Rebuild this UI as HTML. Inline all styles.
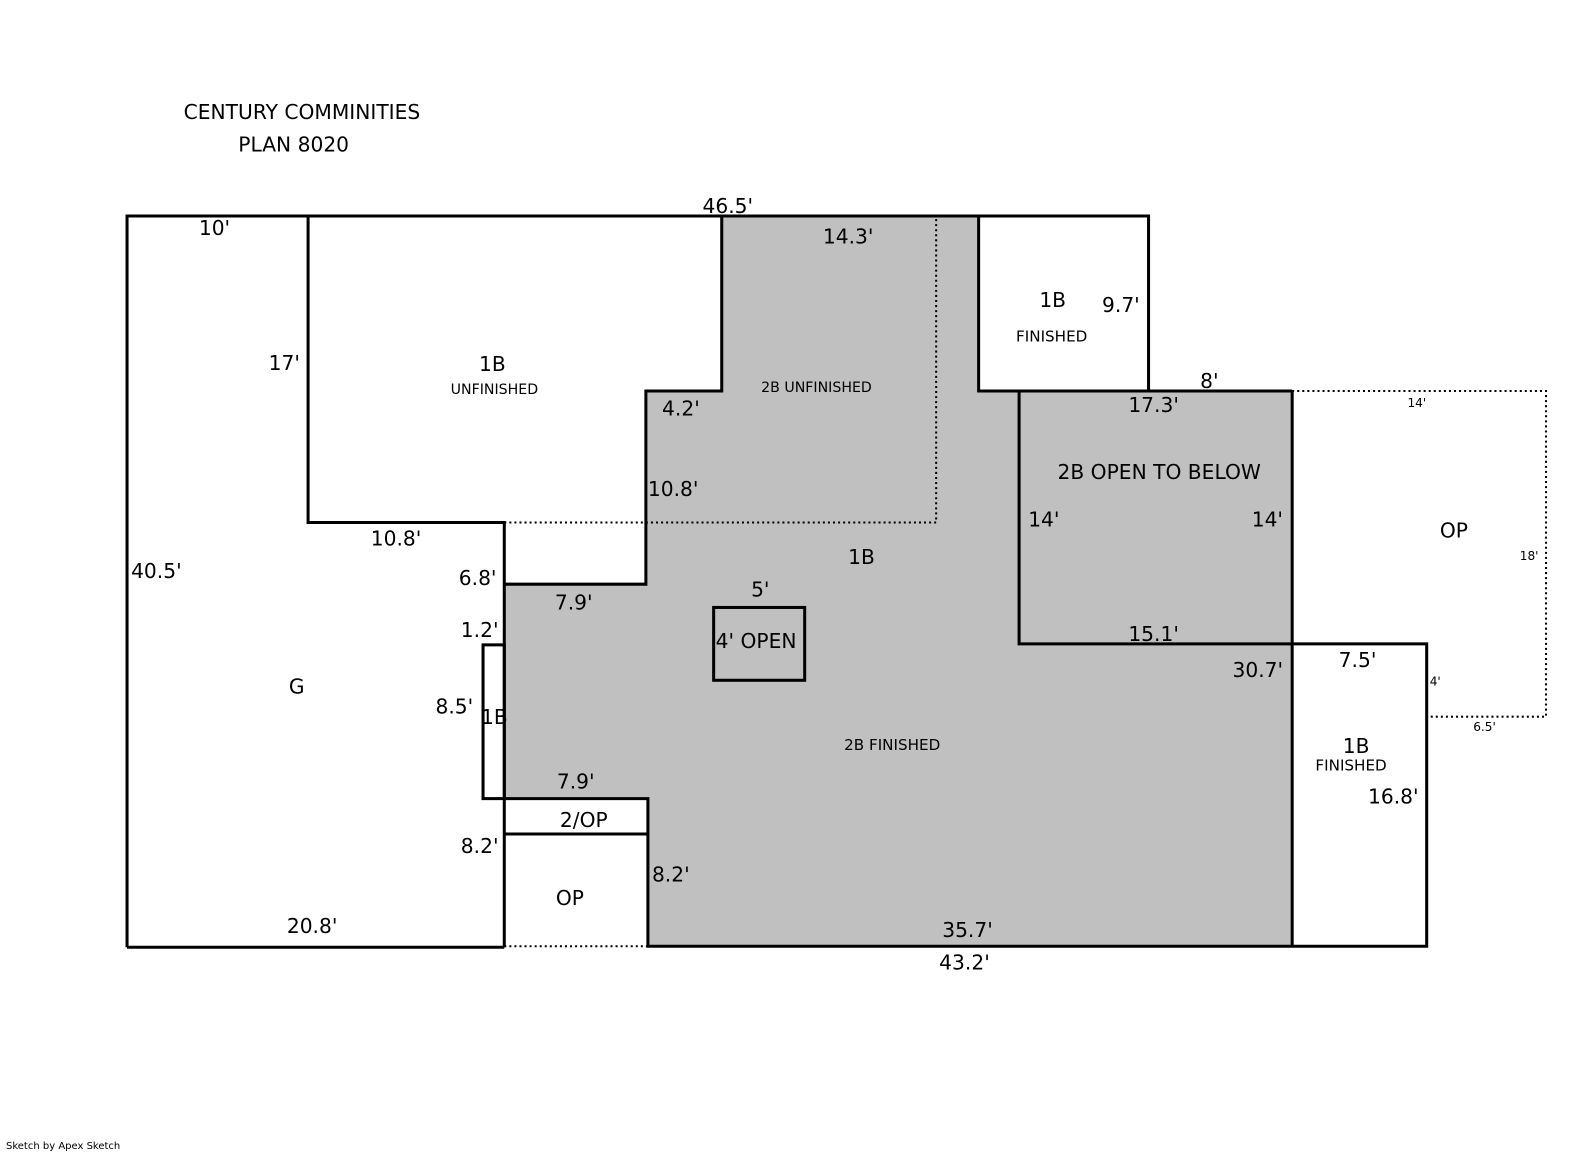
<!DOCTYPE html>
<html><head><meta charset="utf-8"><style>
html,body{margin:0;padding:0;background:#fff;}
svg{display:block;}
text{font-family:"DejaVu Sans","Liberation Sans",sans-serif;fill:#000;}
.d{font-size:20px;}
.s{font-size:15px;}
.t{font-size:14px;}
.x{font-size:12px;}
</style></head><body>
<svg width="1585" height="1163" viewBox="0 0 1585 1163" xmlns="http://www.w3.org/2000/svg">
<rect width="1585" height="1163" fill="#fff"/>
<g transform="matrix(1.0114 0 0 1.0114 -0.4 -0.4)">
<polygon points="714,215 968,215 968,387 1278,387 1278,936 641,936 641,790 499,790 499,578 639,578 639,387 714,387" fill="#c0c0c0"/>
<g stroke="#000" stroke-width="3" fill="none">
<polyline points="126,937 126,214 1136,214 1136,387"/>
<line x1="126" y1="937" x2="499" y2="937"/>
<polyline points="305,214 305,517 499,517 499,937"/>
<polyline points="714,214 714,387 639,387 639,578 499,578"/>
<polyline points="968,214 968,387 1278,387"/>
<polyline points="1008,387 1008,637 1278,637"/>
<line x1="1278" y1="387" x2="1278" y2="936"/>
<polyline points="1278,637 1411,637 1411,936 641,936 641,790 499,790"/>
<line x1="499" y1="825" x2="641" y2="825"/>
<rect x="478" y="638" width="21" height="152"/>
<rect x="706" y="601" width="90" height="72"/>
</g>
<g stroke="#000" stroke-width="2" fill="none" stroke-dasharray="2,3">
<polyline points="499,517 926,517 926,215"/>
<polyline points="1278,387 1529,387 1529,709 1411,709"/>
<line x1="499" y1="936" x2="641" y2="936"/>
</g>
<text x="182" y="118" class="d">CENTURY COMMINITIES</text>
<text x="236" y="150" class="d">PLAN 8020</text>
<text x="695" y="211" class="d">46.5'</text>
<text x="197" y="233" class="d">10'</text>
<text x="814" y="241" class="d">14.3'</text>
<text x="1028" y="304" class="d">1B</text>
<text x="1090" y="309" class="d">9.7'</text>
<text x="1005" y="338" class="s">FINISHED</text>
<text x="266" y="366" class="d">17'</text>
<text x="474" y="367" class="d">1B</text>
<text x="446" y="390" class="t">UNFINISHED</text>
<text x="753" y="388" class="t">2B UNFINISHED</text>
<text x="1187" y="384" class="d">8'</text>
<text x="1116" y="408" class="d">17.3'</text>
<text x="1392" y="403" class="x">14'</text>
<text x="655" y="411" class="d">4.2'</text>
<text x="1046" y="474" class="d">2B OPEN TO BELOW</text>
<text x="641" y="491" class="d">10.8'</text>
<text x="1017" y="521" class="d">14'</text>
<text x="1238" y="521" class="d">14'</text>
<text x="1424" y="532" class="d">OP</text>
<text x="367" y="540" class="d">10.8'</text>
<text x="839" y="558" class="d">1B</text>
<text x="1503" y="554" class="x">18'</text>
<text x="130" y="572" class="d">40.5'</text>
<text x="454" y="579" class="d">6.8'</text>
<text x="743" y="590" class="d">5'</text>
<text x="549" y="603" class="d">7.9'</text>
<text x="456" y="630" class="d">1.2'</text>
<text x="1116" y="634" class="d">15.1'</text>
<text x="708" y="641" class="d">4' OPEN</text>
<text x="1324" y="660" class="d">7.5'</text>
<text x="1219" y="670" class="d">30.7'</text>
<text x="1414" y="678" class="x">4'</text>
<text x="286" y="686" class="d">G</text>
<text x="431" y="706" class="d">8.5'</text>
<text x="476" y="716" class="d">1B</text>
<text x="1457" y="723" class="x">6.5'</text>
<text x="835" y="742" class="s">2B FINISHED</text>
<text x="1328" y="745" class="d">1B</text>
<text x="1301" y="762" class="s">FINISHED</text>
<text x="551" y="780" class="d">7.9'</text>
<text x="1353" y="795" class="d">16.8'</text>
<text x="554" y="818" class="d">2/OP</text>
<text x="456" y="844" class="d">8.2'</text>
<text x="645" y="872" class="d">8.2'</text>
<text x="550" y="895" class="d">OP</text>
<text x="284" y="923" class="d">20.8'</text>
<text x="932" y="927" class="d">35.7'</text>
<text x="929" y="959" class="d">43.2'</text>
</g>
<text x="6" y="1149" style="font-size:10px">Sketch by Apex Sketch</text>
</svg>
</body></html>
